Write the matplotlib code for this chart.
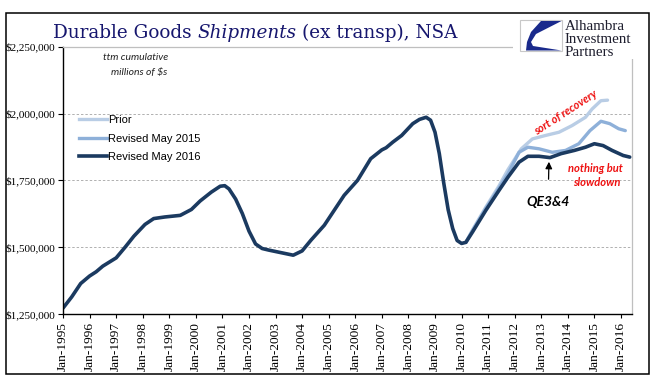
import matplotlib
matplotlib.use('Agg')
import matplotlib.pyplot as plt
import numpy as np
from matplotlib.patches import Rectangle, Polygon
from matplotlib.lines import Line2D
from matplotlib.ticker import FuncFormatter

# ---------------- data ----------------
dates_2016 = ['1995-01', '1995-05', '1995-09', '1996-01', '1996-04', '1996-07', '1997-01',
              '1997-05', '1997-09', '1998-02', '1998-06', '1998-11', '1999-06', '1999-11',
              '2000-03', '2000-08', '2000-12', '2001-02', '2001-04', '2001-07', '2001-10',
              '2002-01', '2002-04', '2002-07', '2002-10', '2003-02', '2003-09', '2004-01',
              '2004-05', '2004-11', '2005-04', '2005-08', '2006-02', '2006-08', '2007-01',
              '2007-03', '2007-06', '2007-10', '2008-03', '2008-06', '2008-09', '2008-11',
              '2009-01', '2009-03', '2009-05', '2009-07', '2009-09', '2009-11', '2010-01',
              '2010-03', '2010-06', '2010-12', '2011-06', '2011-10', '2012-03', '2012-07',
              '2012-12', '2013-05', '2013-10', '2014-04', '2014-09', '2015-01', '2015-05',
              '2015-09', '2016-02', '2016-05']
values_2016 = [1272000, 1314000, 1364000, 1392000, 1408000, 1429000, 1460000,
               1499000, 1541000, 1585000, 1607000, 1613000, 1619000, 1641000,
               1673000, 1706000, 1728000, 1730000, 1718000, 1680000, 1626000,
               1560000, 1512000, 1495000, 1489000, 1482000, 1470000, 1486000,
               1526000, 1582000, 1644000, 1694000, 1750000, 1831000, 1864000,
               1872000, 1893000, 1918000, 1962000, 1978000, 1986000, 1975000,
               1930000, 1850000, 1740000, 1640000, 1570000, 1525000, 1514000,
               1518000, 1557000, 1638000, 1713000, 1762000, 1818000, 1840000,
               1840000, 1835000, 1850000, 1862000, 1874000, 1887000, 1880000,
               1862000, 1843000, 1837000]

dates_2015 = ['2010-03', '2010-06', '2010-12', '2011-06', '2011-10', '2012-03', '2012-07',
              '2012-12', '2013-06', '2013-12', '2014-06', '2014-11', '2015-04', '2015-08',
              '2015-12', '2016-03']
values_2015 = [1518000, 1562000, 1645000, 1722000, 1775000, 1855000, 1874000,
               1868000, 1855000, 1862000, 1887000, 1936000, 1971000, 1962000,
               1943000, 1936000]

dates_prior = ['2010-03', '2010-06', '2010-12', '2011-06', '2011-10', '2012-04', '2012-09',
               '2013-03', '2013-09', '2014-03', '2014-09', '2014-12', '2015-04', '2015-07']
values_prior = [1518000, 1565000, 1650000, 1730000, 1790000, 1868000, 1905000,
                1918000, 1930000, 1955000, 1986000, 2017000, 2048000, 2050000]

series_labels = ['Prior', 'Revised May 2015', 'Revised May 2016']
tick_years = list(range(1995, 2017))
tick_labels = [f'Jan-{y}' for y in tick_years]
y_ticks = [1250000, 1500000, 1750000, 2000000, 2250000]

# ---------------- styling ----------------
c_prior = '#B9CDE5'
c_2015 = '#8EB0D9'
c_2016 = '#1B3A60'
navy = '#16166E'

W, H = 651, 392
fig = plt.figure(figsize=(W / 100, H / 100), dpi=100)


def fx(px):
    return px / W


def fy(py):
    return 1 - py / H


ax = fig.add_axes([fx(63), fy(314), fx(632) - fx(63), fy(46.7) - fy(314)])


def to_dt(ds):
    return np.array([np.datetime64(d + '-01') for d in ds])


ax.plot(to_dt(dates_prior), values_prior, color=c_prior, lw=2.4, solid_capstyle='round')
ax.plot(to_dt(dates_2015), values_2015, color=c_2015, lw=2.4, solid_capstyle='round')
ax.plot(to_dt(dates_2016), values_2016, color=c_2016, lw=2.6, solid_capstyle='round',
        solid_joinstyle='round')

ax.set_xlim(np.datetime64('1995-01-01'), np.datetime64('2016-06-01'))
ax.set_ylim(1250000, 2250000)

ax.set_xticks([np.datetime64(f'{y}-01-01') for y in tick_years])
ax.set_xticklabels(tick_labels, rotation=90, family='Liberation Serif', fontsize=9.6)
ax.set_yticks(y_ticks)
ax.yaxis.set_major_formatter(FuncFormatter(lambda v, p: '${:,.0f}'.format(v)))
for lab in ax.get_yticklabels():
    lab.set_family('Liberation Serif')
    lab.set_fontsize(8)
ax.tick_params(axis='y', direction='out', length=3.5, width=0.8, pad=2, colors='black')
ax.tick_params(axis='x', direction='out', length=3, width=0.8, pad=3, colors='black')

for v in y_ticks[1:-1]:
    ax.axhline(v, color='#B0B0B0', lw=0.7, ls=(0, (2.5, 2)), zorder=0)

ax.spines['left'].set_color('black')
ax.spines['bottom'].set_color('black')
ax.spines['left'].set_linewidth(1.0)
ax.spines['bottom'].set_linewidth(1.0)
ax.spines['top'].set_color('#BFBFBF')
ax.spines['right'].set_color('#BFBFBF')
ax.spines['top'].set_linewidth(0.9)
ax.spines['right'].set_linewidth(0.9)

# legend
handles = [Line2D([], [], color=c_prior, lw=2.4),
           Line2D([], [], color=c_2015, lw=2.4),
           Line2D([], [], color=c_2016, lw=2.6)]
ax.legend(handles, series_labels, loc='upper left', bbox_to_anchor=(fx(79), fy(115)),
          bbox_transform=fig.transFigure, frameon=False, borderpad=0, borderaxespad=0,
          handlelength=2.55, handletextpad=0.08, labelspacing=0.78,
          prop={'family': 'Liberation Sans', 'size': 8})

# note
fig.text(fx(136), fy(58), 'ttm cumulative', ha='center', va='center', style='italic',
         family='Lato', fontsize=7.5, color='#222222')
fig.text(fx(139), fy(72), 'millions of $s', ha='center', va='center', style='italic',
         family='Lato', fontsize=7.5, color='#222222')

# annotations
red = '#EE1111'
fig.text(fx(566), fy(113), 'sort of recovery', ha='center', va='center', rotation=33,
         style='italic', weight='bold', family='Lato', fontsize=8, color=red)
fig.text(fx(595), fy(168), 'nothing but', ha='center', va='center',
         style='italic', weight='bold', family='Lato', fontsize=8, color=red)
fig.text(fx(597), fy(183), 'slowdown', ha='center', va='center',
         style='italic', weight='bold', family='Lato', fontsize=8, color=red)
fig.text(fx(548), fy(202), 'QE3&4', ha='center', va='center',
         style='italic', weight='bold', family='Lato', fontsize=10, color='black')
fig.add_artist(matplotlib.patches.FancyArrowPatch(
    (fx(548.5), fy(182)), (fx(549), fy(159)), transform=fig.transFigure,
    arrowstyle='-|>,head_length=4,head_width=2', mutation_scale=1, lw=0.9, color='black'))

# title (mixed roman / italic)
fig.canvas.draw()
r = fig.canvas.get_renderer()


def text_w(s, **kw):
    t = fig.text(0, 0, s, **kw)
    w = t.get_window_extent(renderer=r).width
    t.remove()
    return w


tkw = dict(family='DejaVu Serif', fontsize=13.2, color=navy, va='baseline')
space = text_w('x x', **tkw) - text_w('xx', **tkw)
xpos = 53.0
for s, st, gap in [('Durable Goods', 'normal', True), ('Shipments', 'italic', True),
                   ('(ex transp), NSA', 'normal', False)]:
    t = fig.text(fx(xpos), fy(38.5), s, style=st, **tkw)
    w = t.get_window_extent(renderer=r).width
    xpos += w + (space if gap else 0)

# logo area (covers plot border)
fig.add_artist(Rectangle((fx(513), fy(59)), fx(648) - fx(513), fy(14) - fy(59),
                         transform=fig.transFigure, facecolor='white', edgecolor='none', zorder=5))
fig.add_artist(Rectangle((fx(520), fy(51)), fx(562) - fx(520), fy(20) - fy(51),
                         transform=fig.transFigure, facecolor='white', edgecolor='#C8C8C8',
                         lw=0.8, zorder=6))
logo_pts = [(541, 21), (561.5, 21), (536, 34), (531, 42), (533, 46), (561.5, 50.5),
            (526, 50.5), (527, 42), (531, 32)]
fig.add_artist(Polygon([(fx(a), fy(b)) for a, b in logo_pts], closed=True,
                       transform=fig.transFigure, facecolor='#1A2A8C', edgecolor='none', zorder=7))
for i, s in enumerate(['Alhambra', 'Investment', 'Partners']):
    fig.text(fx(565), fy(26 + 13.3 * i), s, ha='left', va='center', family='Liberation Serif',
             fontsize=10.8, color='#1E1E2E', zorder=8)

# outer frame
fig.add_artist(Rectangle((fx(5.7), fy(374)), fx(648.7) - fx(5.7), fy(13) - fy(374),
                         transform=fig.transFigure, facecolor='none', edgecolor='black',
                         lw=1.1, zorder=10))

fig.savefig('out.png', dpi=100, facecolor='white')
